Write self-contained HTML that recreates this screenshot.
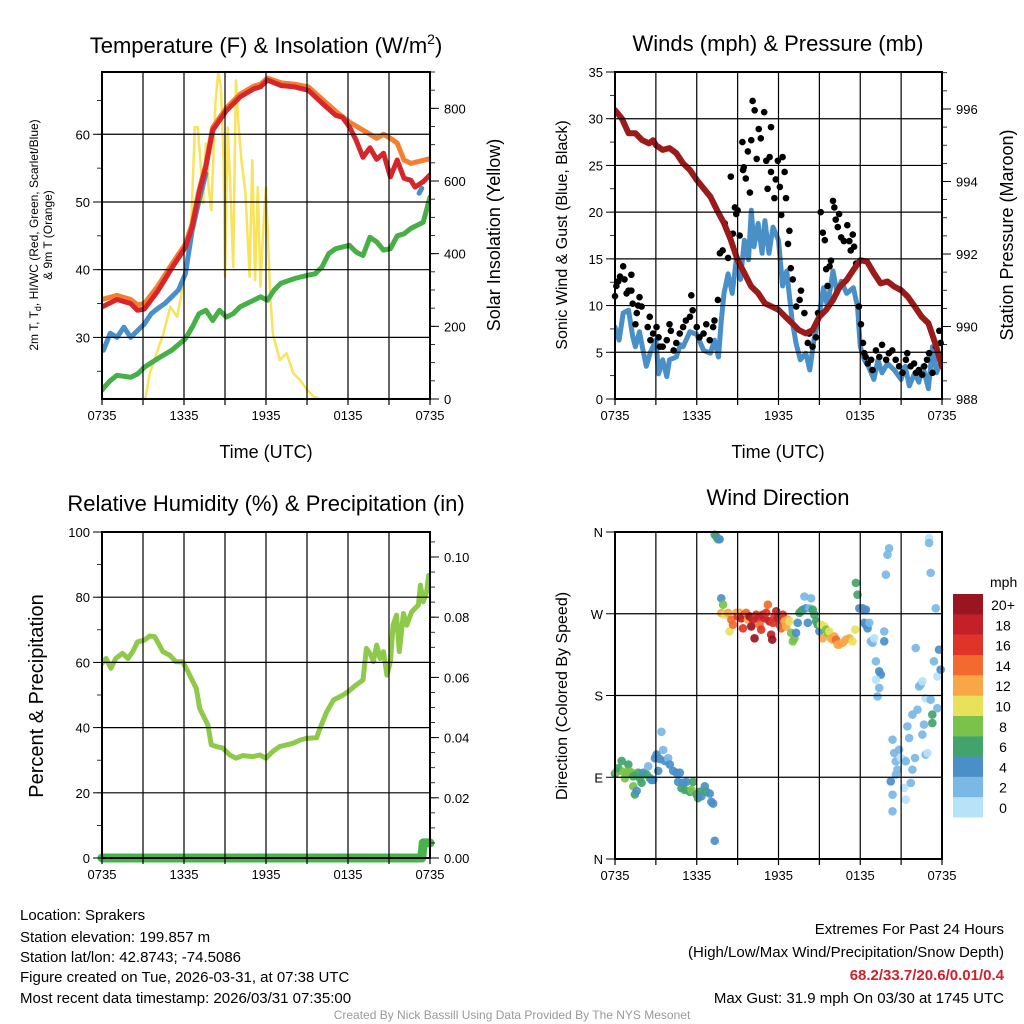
<!DOCTYPE html>
<html><head><meta charset="utf-8">
<style>
html,body{margin:0;padding:0;background:#fff;}
svg{display:block;font-family:"Liberation Sans",sans-serif;}
</style></head>
<body>
<svg id="chart" width="1024" height="1024" viewBox="0 0 1024 1024" xmlns="http://www.w3.org/2000/svg">
<g id="layer"></g>
<g font-size="22" text-anchor="middle" fill="#000">
<text x="266" y="53">Temperature (F) &amp; Insolation (W/m<tspan font-size="14" dy="-9">2</tspan><tspan dy="9">)</tspan></text>
<text x="778" y="51">Winds (mph) &amp; Pressure (mb)</text>
<text x="266" y="511">Relative Humidity (%) &amp; Precipitation (in)</text>
<text x="778" y="505">Wind Direction</text>
</g>
<g font-size="18" text-anchor="middle" fill="#000">
<text x="266" y="458">Time (UTC)</text>
<text x="778" y="458">Time (UTC)</text>
<text transform="translate(500,235) rotate(-90)">Solar Insolation (Yellow)</text>
<text font-size="16" transform="translate(567,235) rotate(-90)">Sonic Wind &amp; Gust (Blue, Black)</text>
<text transform="translate(1013,235) rotate(-90)">Station Pressure (Maroon)</text>
<text font-size="20" transform="translate(43,696) rotate(-90)">Percent &amp; Precipitation</text>
<text font-size="16" transform="translate(567,696) rotate(-90)">Direction (Colored By Speed)</text>
<text font-size="12" transform="translate(38,235) rotate(-90)">2m T, T<tspan font-size="9" dy="3">d</tspan><tspan dy="-3">, HI/WC (Red, Green, Scarlet/Blue)</tspan></text>
<text font-size="12" transform="translate(52,235) rotate(-90)">&amp; 9m T (Orange)</text>
</g>
<g font-size="15" fill="#000">
<text x="20" y="920">Location: Sprakers</text>
<text x="20" y="942">Station elevation: 199.857 m</text>
<text x="20" y="962">Station lat/lon: 42.8743; -74.5086</text>
<text x="20" y="982">Figure created on Tue, 2026-03-31, at 07:38 UTC</text>
<text x="20" y="1003">Most recent data timestamp: 2026/03/31 07:35:00</text>
</g>
<g font-size="15" fill="#000" text-anchor="end">
<text x="1004" y="934">Extremes For Past 24 Hours</text>
<text x="1004" y="957">(High/Low/Max Wind/Precipitation/Snow Depth)</text>
<text x="1004" y="980" fill="#d1202a" font-weight="bold">68.2/33.7/20.6/0.01/0.4</text>
<text x="1004" y="1003">Max Gust: 31.9 mph On 03/30 at 1745 UTC</text>
</g>
<text x="512" y="1019" font-size="12" fill="#999" text-anchor="middle">Created By Nick Bassill Using Data Provided By The NYS Mesonet</text>
</svg>
<script>
// ---------- data (hours since 0735 UTC) ----------
const tempHours=[0,1.1,2.1,2.6,3.1,4.1,5.1,6.1,6.6,7.1,7.6,8.1,9.1,10.1,11.1,11.6,12.1,13.1,14.1,15.1,16.1,17.1,17.6,18.1,18.6,19.1,19.6,20.1,20.6,21.1,21.6,22.1,22.6,22.9,23.5,24];
const tempF=[34.5,35.6,35.0,34.0,34.2,36.9,40.2,43.3,46.3,51.3,55.2,60.6,63.5,65.5,66.7,67.0,68.0,67.2,67.0,66.5,64.6,62.8,62.5,61.1,59.1,56.6,58.0,56.3,57.2,53.7,56.2,53.5,53.2,52.2,53.0,54.0];
const temp9Hours=[0,1.1,2.1,2.6,3.1,4.1,5.1,6.1,6.6,7.1,7.6,8.1,9.1,10.1,11.1,11.6,12.1,13.1,14.1,15.1,16.1,17.1,18.1,19.1,20.1,20.6,21.1,21.6,22.1,22.6,24];
const temp9F=[35.6,36.2,35.6,34.8,35.0,37.6,40.8,43.8,46.8,51.7,55.6,61.0,63.9,65.9,67.1,67.4,68.3,67.6,67.4,67.0,65.2,63.4,61.8,60.6,59.4,60.0,59.4,58.7,56.2,55.7,56.4];
const wcHours=[0,0.1,0.6,1.1,1.6,2.1,2.6,3.1,3.6,4.1,4.6,5.1,5.6,6.1,6.6,7.1,7.6];
const wcF=[28.4,28.1,30.6,30.0,31.5,30.0,31.0,32.0,33.5,34.3,35.0,36.0,37.0,39.4,45.8,50.2,54.2];
const wcEndHours=[23.2,23.4];
const wcEndF=[51.3,52.0];
const dewHours=[0,0.1,0.6,1.1,2.1,2.6,3.1,4.1,5.1,6.1,6.6,7.1,7.6,8.1,8.6,9.1,9.6,10.1,10.6,11.1,11.6,12.1,12.6,13.1,14.1,15.1,15.6,16.1,16.6,17.1,18.1,18.6,19.1,19.6,20.1,20.6,21.1,21.6,22.1,22.6,23.5,24];
const dewF=[22.2,22.5,23.6,24.4,24.1,24.6,25.6,26.9,28.1,29.8,31.5,33.5,34.0,32.5,34.0,33.0,33.5,34.5,35.0,35.5,36.0,35.5,37.0,38.0,38.7,39.2,39.4,40.4,42.4,43.1,43.6,42.6,42.1,44.8,44.1,42.9,43.1,45.0,45.3,46.1,47.0,50.7];
const solarHours=[0,3,3.2,3.5,4,4.5,5,5.5,6,6.5,6.8,7,7.2,7.4,7.6,7.8,8,8.3,8.5,8.7,8.9,9,9.2,9.4,9.6,9.8,10,10.2,10.5,10.8,11,11.2,11.4,11.6,11.8,12,12.3,12.5,13,13.5,14,14.5,15,15.5,16,24];
const solarW=[0,0,5,71,126,181,254,226,327,456,748,748,657,538,703,583,520,813,900,858,657,336,748,566,363,877,748,657,566,336,657,327,583,309,473,583,291,181,107,126,71,52,25,6,0,0];

const presHours=[0,0.5,1,1.5,2,2.5,2.8,3,3.5,4,4.5,5,5.5,6,6.5,7,7.5,8,8.5,9,9.5,10,10.5,11,11.5,12,12.5,13,13.5,14,14.5,15,15.5,16,16.5,17,17.5,18,18.5,19,19.5,20,20.5,21,21.5,22,22.5,23,23.5,24];
const presMb=[995.97,995.74,995.33,995.33,995.14,995.05,995.14,995.0,994.87,994.92,994.78,994.5,994.32,994.04,993.81,993.58,993.2,992.85,992.39,991.83,991.47,991.1,990.92,990.64,990.55,990.46,990.27,990.09,989.9,989.81,989.9,990.27,990.46,990.73,991.1,991.28,991.56,991.83,991.79,991.47,991.19,991.24,991.1,991.0,990.82,990.55,990.27,990.09,989.54,988.9];
const windHours=[0,0.3,0.6,1,1.3,1.5,1.8,2,2.3,2.6,3,3.2,3.5,3.8,4,4.5,4.8,5,5.5,6,6.5,7,7.3,7.6,7.8,8,8.3,8.6,8.9,9.2,9.5,9.8,10,10.2,10.5,10.8,11,11.3,11.6,12,12.3,12.6,13,13.3,13.6,14,14.3,14.6,15,15.3,15.6,16,16.3,16.6,17,17.5,17.8,18,18.3,18.6,19,19.3,19.6,20,20.5,21,21.3,21.6,22,22.3,22.6,23,23.3,23.6,24];
const windMph=[7.7,6.3,9.2,9.5,6.7,5.6,7.2,5.6,3.5,5.0,6.3,2.7,4.2,2.4,4.2,4.5,5.8,5.6,7.2,6.9,5.2,4.9,6.3,4.5,8.4,11.3,13.4,11.3,14.9,12.8,17.0,14.9,20.2,16.3,18.8,15.6,19.1,15.6,18.4,17.0,12.1,13.7,8.4,5.9,4.2,4.9,3.1,6.3,9.2,11.9,9.9,13.7,11.3,12.6,11.3,11.9,9.9,5.6,4.2,3.5,2.1,4.2,2.8,3.8,3.1,2.1,3.5,1.4,2.8,1.8,3.5,1.1,5.6,2.8,4.2];
const gustHours=[0,0.1,0.24,0.37,0.6,0.7,0.85,1,1.2,1.2,1.3,1.7,1.8,1.95,1.6,2.55,1.5,2.4,2.6,2.8,3.05,3.2,3.3,3.5,3.8,4.0,4.1,4.3,4.5,4.75,5.0,5.2,5.5,5.6,5.7,6.0,6.2,6.5,6.7,6.95,7.2,7.3,7.55,7.7,7.9,8.05,8.3,8.5,8.65,8.8,8.9,9.0,9.15,9.35,9.4,9.45,9.6,9.75,9.9,10.0,10.1,10.25,10.4,10.55,10.7,10.95,11.1,11.2,11.35,11.45,11.45,11.7,11.8,11.95,12.1,12.2,12.3,12.45,12.55,12.7,12.8,12.9,13.05,13.3,13.55,13.65,13.9,14.15,14.25,14.5,14.75,14.9,15.1,15.25,15.4,15.5,15.6,15.75,15.85,16.0,16.1,16.2,16.35,16.45,16.6,16.8,17.05,17.2,17.3,17.45,17.55,17.7,17.9,18.05,18.2,18.3,18.4,18.55,18.8,18.9,19.15,19.4,19.6,19.9,20.1,20.35,20.6,20.85,21.1,21.35,21.45,21.7,21.95,22.1,22.3,22.55,22.7,22.9,23.05,23.3,23.55,23.8,23.9];
const gustMph=[11,12.1,12.6,13.1,14.2,12.8,11.3,11.6,13.3,11.6,10.2,10.0,10.9,9.9,9.2,8.8,8.0,7.7,6.3,7.0,7.7,6.6,5.6,5.6,6.3,8.0,7.3,5.2,6.0,7.0,7.7,8.4,8.8,11.1,9.5,7.7,6.6,7.0,8.0,6.3,7.7,8.4,10.6,15.6,15.9,18.8,15.1,23.8,17.7,20.5,19.8,20.2,17.5,27.5,24.5,24.8,23.6,26.5,22.1,27.7,31.9,30.9,25.7,28.9,27.9,30.7,25.5,22.5,25.9,29.1,24.3,21.5,23.5,25.5,22.7,19.7,25.9,24.3,21.5,16.6,18.0,14.0,12.8,9.9,10.6,11.6,9.2,6.0,7.0,5.6,6.6,9.2,20.0,17.8,17.0,13.9,12.1,14.2,14.8,21.2,20.5,19.2,18.4,19.8,17.3,16.9,18.6,16.9,15.9,17.6,16.3,14.5,9.9,8.0,6.0,4.9,4.5,3.8,4.2,3.1,5.2,4.5,5.8,4.2,4.9,5.2,4.2,3.5,2.8,4.2,4.9,3.5,3.8,2.8,3.1,2.6,3.5,4.2,4.9,2.8,5.6,7.3,6.0];

const rhHours=[0,0.3,0.65,1.0,1.5,1.9,2.25,2.6,3.1,3.5,3.85,4.2,4.45,4.95,5.4,5.9,6.3,6.65,6.9,7.15,7.5,7.75,8.0,8.35,8.85,9.35,9.8,10.3,11.05,11.55,12.0,12.5,13.0,13.5,14.0,14.5,14.95,15.7,15.95,16.45,16.95,17.65,18.0,18.6,19.1,19.35,19.6,19.85,20.1,20.35,20.6,20.85,21.1,21.3,21.55,21.75,22.05,22.3,22.65,23.15,23.3,23.5,23.75,23.9,24];
const rhPct=[59.7,61.2,58.2,61.2,62.8,61.2,63.3,66.3,66.8,68.1,67.9,65.3,63.3,62.2,60.2,60.2,57.1,54.1,52.0,45.9,42.9,40.8,34.7,34.2,33.7,31.6,30.6,31.4,31.1,31.6,30.6,32.7,34.2,34.7,35.2,36.2,36.7,36.9,39.8,44.9,48.5,50.0,51.0,53.1,54.6,64.3,62.8,60.2,65.3,61.2,63.3,56.1,60.2,71.4,74.5,63.3,75.0,71.4,75.5,77.6,83.7,78.6,81.6,86.7,83.7];
const precipHours=[0,23.4,23.5,24];
const precipIn=[0,0,0.005,0.005];

const dirHours=[0,0.12,0.24,0.49,0.61,0.73,0.85,0.98,1.1,1.22,1.34,1.34,1.46,1.59,1.71,1.83,1.95,2.07,2.32,2.44,2.56,2.68,2.8,2.93,3.05,3.17,3.29,3.41,3.54,3.66,3.9,4.02,4.27,4.51,4.63,4.76,4.88,5.0,5.12,5.24,5.49,5.61,5.73,5.98,6.1,6.22,6.34,6.59,6.71,6.95,7.07,7.2,7.32,
7.32,7.44,7.56,7.68,7.8,7.93,
7.8,8.05,8.29,8.41,8.54,8.66,8.9,9.02,9.15,9.27,9.39,9.51,9.63,9.76,9.88,10.0,10.12,10.24,10.37,10.49,10.61,10.73,10.85,10.98,11.1,11.22,11.34,11.46,11.54,11.59,11.71,11.83,11.95,12.07,12.2,12.32,12.44,12.56,12.68,12.8,12.93,13.05,13.17,13.29,13.41,13.54,13.66,13.78,13.9,14.02,14.15,14.27,14.39,14.51,14.63,14.76,14.88,15.0,15.12,15.24,15.37,15.49,15.61,15.73,15.85,15.98,16.1,16.22,16.34,16.46,16.71,16.95,17.2,17.44,17.63,17.68,17.8,17.93,18.17,18.29,18.41,18.29,18.41,18.54,18.66,18.78,18.9,19.02,19.15,19.39,19.51,19.15,19.39,19.27,19.76,19.76,19.88,20.0,20.12,20.37,20.49,20.61,20.73,20.85,20.98,20.24,20.37,20.37,20.61,21.22,21.34,21.22,21.34,21.46,21.59,21.71,21.83,21.83,22.02,22.07,22.2,22.32,22.44,22.56,22.56,22.68,22.8,22.8,22.93,23.05,23.05,23.17,23.17,23.29,23.29,23.41,23.54,23.66,23.66,23.78,23.9];
const dirDeg=[94,96,100,108,96,89,95,104,96,95,91,80,71,75,95,89,84,95,93,102,89,87,87,111,115,97,110,140,120,108,111,104,97,95,85,95,78,84,76,85,74,76,85,71,67,74,69,80,74,72,63,61,20,
357,355,352,352,287,280,
270.8,269,271,250.6,263.5,258,271,267,271,265,254,269,271,263.5,267,256,263.5,243,269,265,258,252.5,269,265,271,280,261.7,247,241.5,260,267,272.7,265,258,254,269,261.7,256,263.5,261.7,249,239.7,243,249,260,271,272.7,274.5,289,276,260,276,287,274.5,269,261.7,258,250.6,258,243,256,252.5,249,250.6,243,241.5,245,241.5,236,236,238,241.5,243,239.7,252.5,304,291,276,276,274.5,274.5,260,258,254,260,239.7,238,243,217.6,206.6,203,197.4,188.3,179,250.6,239.7,313,335,342,131.4,116.7,107.5,98.4,120.4,111.2,85.5,70.8,52.5,92.8,109.4,107.5,78.2,65.3,146,133.2,83.7,159,98.4,111.2,232.3,164.4,190,192,137,195.6,148,177,115,116.7,353.4,348,315,175.4,159,149.7,217.6,276,201,166,230.5,208.5];
const dirSpeed=[7,9,7,7,9,9,9,7,9,9,7,9,7,5,7,7,7,5,7,3,7,5,5,5,5,5,5,3,3,5,3,5,5,5,5,5,7,5,7,5,7,9,7,7,7,7,5,5,7,5,5,5,5,
5,7,7,5,5,9,
13,11,13,11,15,15,13,17,13,19,17,19,15,13,21,21,19,21,17,19,15,17,19,19,17,15,19,19,21,17,17,19,19,17,15,17,13,13,13,11,9,9,9,5,5,7,7,7,3,5,5,3,3,7,7,7,7,5,11,13,11,9,9,11,13,13,13,15,13,13,13,13,13,11,11,7,7,5,5,5,5,5,5,5,3,3,3,1,3,5,5,1,3,3,3,5,3,3,3,3,3,3,3,3,1,5,3,3,3,1,3,1,1,3,3,3,3,3,3,3,3,3,3,3,1,3,1,3,1,1,3,3,3,7,7,3,3,1,3,5,5];

const xTickLabels=["0735","1335","1935","0135","0735"];
const tempTicks=[30,40,50,60];
const solarTicks=[0,200,400,600,800];
const windTicks=[0,5,10,15,20,25,30,35];
const presTicks=[988,990,992,994,996];
const rhTicks=[0,20,40,60,80,100];
const precipTicks=["0.00","0.02","0.04","0.06","0.08","0.10"];
const dirTicks=["N","E","S","W","N"];
const speedBins=["0","2","4","6","8","10","12","14","16","18","20+"];
const speedColors=["#b8e2f8","#7ab8e6","#4a8fc8","#42a46a","#7ac24a","#e8e25a","#f9a746","#f26a2d","#e03428","#c4202a","#9b1520"];

// ---------- drawing ----------
const NS="http://www.w3.org/2000/svg";
const layer=document.getElementById('layer');
function mk(tag,attrs,parent){const e=document.createElementNS(NS,tag);for(const k in attrs)e.setAttribute(k,attrs[k]);(parent||layer).appendChild(e);return e;}
function scale(d0,d1,r0,r1){return v=>r0+(v-d0)/(d1-d0)*(r1-r0);}

function frame(P,name){
  const g=mk('g',{});
  
  
  const x=scale(0,24,P.L,P.R);
  for(let h=3;h<24;h+=3){const l=mk('line',{x1:x(h),x2:x(h),y1:P.T,y2:P.B,stroke:'#000','stroke-width':1.2},g);
    }
  for(let h=0;h<=24;h+=3){mk('line',{x1:x(h),x2:x(h),y1:P.B,y2:P.B+6,stroke:'#000','stroke-width':1.2},g);}
  xTickLabels.forEach((t,i)=>{const tx=mk('text',{x:x(i*6),y:P.B+21,'font-size':13,'text-anchor':'middle'},g);tx.textContent=t;
    });
  return {g,x};
}
function yGrid(P,g,y,vals,labels,side,minor){
  vals.forEach((v,i)=>{
    const yy=y(v);
    if(side==='L'){ if(yy>P.T+1&&yy<P.B-1){const l=mk('line',{x1:P.L,x2:P.R,y1:yy,y2:yy,stroke:'#000','stroke-width':1.2},g);
      }
      mk('line',{x1:P.L-9,x2:P.L,y1:yy,y2:yy,stroke:'#000','stroke-width':1},g);
      const t=mk('text',{x:P.L-12,y:yy+5,'font-size':13,'text-anchor':'end'},g);t.textContent=labels[i];
      }
    else{ mk('line',{x1:P.R,x2:P.R+9,y1:yy,y2:yy,stroke:'#000','stroke-width':1},g);
      const t=mk('text',{x:P.R+14,y:yy+5,'font-size':13,'text-anchor':'start'},g);t.textContent=labels[i];
      }
  });
  (minor||[]).forEach(v=>{const yy=y(v);if(yy<P.T-0.5||yy>P.B+0.5)return;
    if(side==='L')mk('line',{x1:P.L-5,x2:P.L,y1:yy,y2:yy,stroke:'#000','stroke-width':0.8},g);
    else mk('line',{x1:P.R,x2:P.R+5,y1:yy,y2:yy,stroke:'#000','stroke-width':0.8},g);});
}
function border(P,g){const r=mk('rect',{x:P.L,y:P.T,width:P.R-P.L,height:P.B-P.T,fill:'none',stroke:'#000','stroke-width':2},g);
  }
function line(xs,ys,x,y,color,w,name,clip){
  const d=xs.map((h,i)=>(i?'L':'M')+x(h).toFixed(1)+' '+y(ys[i]).toFixed(1)).join(' ');
  const p=mk('path',{d:d,fill:'none',stroke:color,'stroke-width':w,'stroke-linejoin':'round','stroke-linecap':'round'});
  if(clip)p.setAttribute('clip-path',clip);
  
  
  return p;
}
function rng(a,b,s){const r=[];for(let v=a;v<=b+1e-9;v+=s)r.push(+v.toFixed(4));return r;}

const defs=mk('defs',{});
[['c1',102,72,328,327],['c2',615,72,327,327],['c3',102,532,328,326],['c4',615,532,327,327]].forEach(c=>{
  const cp=mk('clipPath',{id:c[0]},defs);mk('rect',{x:c[1],y:c[2],width:c[3],height:c[4]},cp);});

// Panel 1
const P1={L:102,R:430,T:72,B:399};
{const f=frame(P1,'temperature');const y=scale(20.9,69.2,P1.B,P1.T);const yr=scale(0,900,P1.B,P1.T);
 yGrid(P1,f.g,y,tempTicks,tempTicks,'L',rng(25,65,5));
 yGrid(P1,f.g,yr,solarTicks,solarTicks,'R',rng(0,900,50));
 line(solarHours,solarW,f.x,yr,'#f8e35a',2.5,'solar-insolation-line','url(#c1)');
 line(dewHours,dewF,f.x,y,'#46b047',5,'dewpoint-line','url(#c1)');
 line(temp9Hours,temp9F,f.x,y,'#f47f2e',5,'temp-9m-line','url(#c1)');
 line(wcHours,wcF,f.x,y,'#4a90c8',5,'wind-chill-line','url(#c1)');
 line(tempHours,tempF,f.x,y,'#d7262b',5,'temp-2m-line','url(#c1)');
 line(wcEndHours,wcEndF,f.x,y,'#4a90c8',5,'wind-chill-end-line','url(#c1)');
 border(P1,f.g);layer.appendChild(f.g);}

// Panel 2
const P2={L:615,R:942,T:72,B:399};
{const f=frame(P2,'winds');const y=scale(0,35,P2.B,P2.T);const yr=scale(988,997.02,P2.B,P2.T);
 yGrid(P2,f.g,y,windTicks,windTicks,'L',rng(0,35,2.5));
 yGrid(P2,f.g,yr,presTicks,presTicks,'R',rng(988,997,0.5));
 line(windHours,windMph,f.x,y,'#4a90c8',5,'sonic-wind-line','url(#c2)');
 gustHours.forEach((h,i)=>{const c=mk('circle',{cx:f.x(h),cy:y(gustMph[i]),r:3.3,fill:'#000'});
   
   });
 line(presHours,presMb,f.x,yr,'#9b1a1a',6,'pressure-line','url(#c2)');
 border(P2,f.g);layer.appendChild(f.g);}

// Panel 3
const P3={L:102,R:430,T:532,B:858};
{const f=frame(P3,'humidity');const y=scale(0,100,P3.B,P3.T);const yr=scale(0,0.1083,P3.B,P3.T);
 yGrid(P3,f.g,y,rhTicks,rhTicks,'L',rng(0,100,10));
 yGrid(P3,f.g,yr,precipTicks.map(Number),precipTicks,'R',rng(0,0.105,0.005));
 line(rhHours,rhPct,f.x,y,'#8fc94a',5,'relative-humidity-line','url(#c3)');
 line(precipHours,precipIn,f.x,yr,'#45b549',9,'precipitation-line');
 border(P3,f.g);layer.appendChild(f.g);}

// Panel 4
const P4={L:615,R:942,T:532,B:859};
{const f=frame(P4,'direction');const y=scale(0,360,P4.B,P4.T);
 yGrid(P4,f.g,y,[0,90,180,270,360],dirTicks,'L',[]);
 dirHours.forEach((h,i)=>{const bin=Math.min(10,Math.floor(dirSpeed[i]/2));
   const c=mk('circle',{cx:f.x(h),cy:y(dirDeg[i]),r:4.3,fill:speedColors[bin],'fill-opacity':0.92});
   
   });
 border(P4,f.g);layer.appendChild(f.g);
 const lg=mk('g',{});
 
 
 const t=mk('text',{x:990,y:587,'font-size':14},lg);t.textContent='mph';
 speedBins.forEach((b,i)=>{const top=594+(10-i)*20.3;
   const r=mk('rect',{x:953,y:top,width:30,height:20.5,fill:speedColors[i]},lg);
   
   
   const tx=mk('text',{x:1003,y:top+16,'font-size':14,'text-anchor':'middle'},lg);tx.textContent=b;
   
   });
}
</script>
</body></html>
